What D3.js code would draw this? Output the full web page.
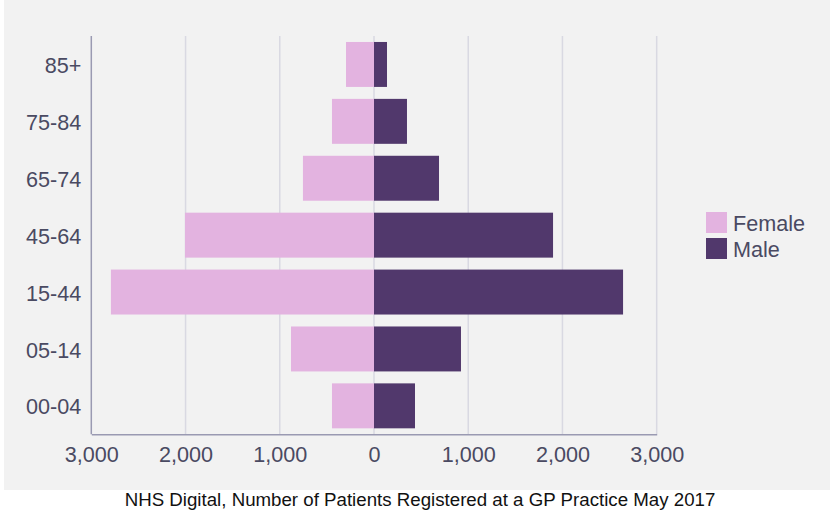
<!DOCTYPE html>
<html>
<head>
<meta charset="utf-8">
<script src="https://cdn.jsdelivr.net/npm/d3@7"></script>
<style>
  body { margin: 0; background: #fff; }
  text { font-family: "Liberation Sans", Arial, sans-serif; }
</style>
</head>
<body>
<svg id="chart" width="830" height="512"></svg>
<script>
// age bands, top to bottom
var ageBands = ['85+', '75-84', '65-74', '45-64', '15-44', '05-14', '00-04'];
var female = [297, 446, 754, 2006, 2792, 881, 446];
var male = [138, 350, 690, 1900, 2643, 923, 435];
var xTicks = [-3000, -2000, -1000, 0, 1000, 2000, 3000];
var series = ['Female', 'Male'];
var caption = 'NHS Digital, Number of Patients Registered at a GP Practice May 2017';

var colors = { Female: '#e3b3e0', Male: '#51386c' };
var textColor = '#4a4a62';

var svg = d3.select('#chart');

svg.append('rect')
  .attr('x', 4).attr('y', 0)
  .attr('width', 826).attr('height', 490)
  .attr('fill', '#f2f2f2');

var x = d3.scaleLinear().domain([-3000, 3000]).range([91.3, 656.7]);
var y = d3.scaleBand().domain(ageBands).range([36, 434.3])
  .paddingInner(0.21).paddingOuter(0.105);

// gridlines
svg.append('g')
  .selectAll('line')
  .data(xTicks.filter(function(t) { return t !== -3000; }))
  .join('line')
  .attr('x1', function(d) { return x(d); })
  .attr('x2', function(d) { return x(d); })
  .attr('y1', 36).attr('y2', 434.3)
  .attr('stroke', '#d9d9e2')
  .attr('stroke-width', 1.5);

var rows = ageBands.map(function(a, i) {
  return { age: a, female: female[i], male: male[i] };
});

svg.append('g')
  .selectAll('rect')
  .data(rows)
  .join('rect')
  .attr('x', function(d) { return x(-d.female); })
  .attr('y', function(d) { return y(d.age); })
  .attr('width', function(d) { return x(0) - x(-d.female); })
  .attr('height', y.bandwidth())
  .attr('fill', colors.Female);

svg.append('g')
  .selectAll('rect')
  .data(rows)
  .join('rect')
  .attr('x', x(0))
  .attr('y', function(d) { return y(d.age); })
  .attr('width', function(d) { return x(d.male) - x(0); })
  .attr('height', y.bandwidth())
  .attr('fill', colors.Male);

// axes
var xAxis = svg.append('g')
  .attr('transform', 'translate(0,434.3)')
  .call(d3.axisBottom(x).tickValues(xTicks).tickSize(0).tickPadding(12)
    .tickFormat(function(d) { return d3.format(',')(Math.abs(d)); }));
xAxis.select('.domain').attr('stroke', '#9a9ab2').attr('stroke-width', 1.5);
xAxis.selectAll('text').attr('fill', textColor).style('font-size', '21.6px');

var yAxis = svg.append('g')
  .attr('transform', 'translate(91.3,0)')
  .call(d3.axisLeft(y).tickSize(0).tickPadding(10));
yAxis.select('.domain').attr('stroke', '#9a9ab2').attr('stroke-width', 1.5)
  .attr('d', 'M0,36V434.3');
yAxis.selectAll('text').attr('fill', textColor).style('font-size', '21.6px')
  .attr('dy', '0.4em');

// legend
var legend = svg.append('g')
  .selectAll('g')
  .data(series)
  .join('g')
  .attr('transform', function(d, i) { return 'translate(706,' + (212 + i * 26) + ')'; });

legend.append('rect')
  .attr('width', 21).attr('height', 21)
  .attr('fill', function(d) { return colors[d]; });

legend.append('text')
  .attr('x', 27).attr('y', 18.5)
  .attr('fill', textColor)
  .style('font-size', '21.6px')
  .text(function(d) { return d; });

svg.append('text')
  .attr('x', 420).attr('y', 506)
  .attr('text-anchor', 'middle')
  .attr('fill', '#111')
  .style('font-size', '18.7px')
  .text(caption);
</script>
</body>
</html>
